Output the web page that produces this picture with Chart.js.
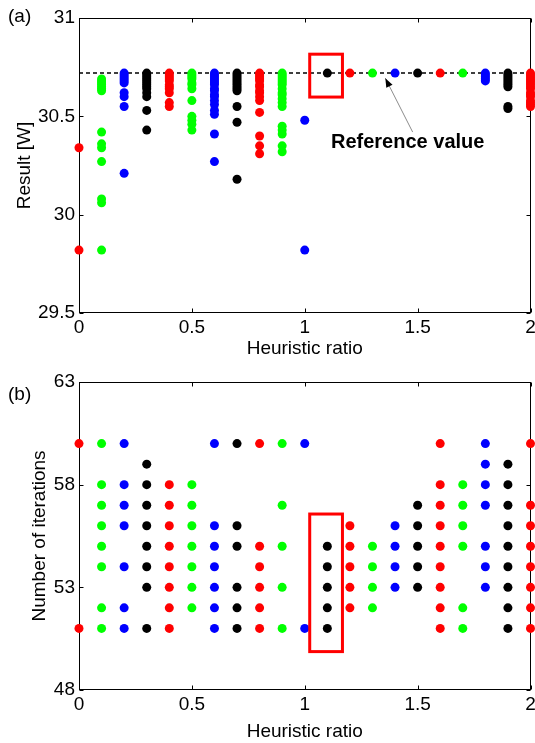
<!DOCTYPE html>
<html>
<head>
<meta charset="utf-8">
<title>Heuristic ratio sweep</title>
<script src="https://cdn.jsdelivr.net/npm/chart.js@4.4.0/dist/chart.umd.min.js"></script>
<style>
  html, body { margin: 0; padding: 0; background: #fff; }
  #wrap { position: relative; width: 535px; height: 743px; }
  canvas { position: absolute; left: 0; }
  #resultChart { top: 0; }
  #iterChart { top: 370px; }
</style>
</head>
<body>
<div id="wrap">
  <canvas id="resultChart" width="535" height="370"></canvas>
  <canvas id="iterChart" width="535" height="373"></canvas>
</div>
<script>
// heuristic ratios swept, one column of runs per ratio
const ratios = [0, 0.1, 0.2, 0.3, 0.4, 0.5, 0.6, 0.7, 0.8, 0.9, 1.0,
                1.1, 1.2, 1.3, 1.4, 1.5, 1.6, 1.7, 1.8, 1.9, 2.0];
// marker colour cycles red, green, blue, black along the ratios
const colorCycle = ['#ff0000', '#00ff00', '#0000ff', '#000000'];

const referenceValue = 30.72;

// result [W] of every run, per ratio
const resultRuns = [
  [30.34, 29.82],
  [30.69, 30.68, 30.67, 30.66, 30.65, 30.64, 30.63, 30.42, 30.36, 30.34, 30.27, 30.08, 30.06, 29.82],
  [30.72, 30.71, 30.70, 30.69, 30.68, 30.67, 30.62, 30.60, 30.55, 30.21],
  [30.72, 30.71, 30.70, 30.69, 30.68, 30.67, 30.66, 30.65, 30.64, 30.62, 30.60, 30.53, 30.43],
  [30.72, 30.71, 30.70, 30.69, 30.68, 30.66, 30.65, 30.64, 30.62, 30.57, 30.55],
  [30.72, 30.71, 30.70, 30.69, 30.67, 30.66, 30.64, 30.58, 30.50, 30.48, 30.46, 30.43],
  [30.72, 30.71, 30.70, 30.69, 30.68, 30.67, 30.66, 30.64, 30.63, 30.61, 30.60, 30.58, 30.56, 30.53, 30.51, 30.41, 30.27],
  [30.72, 30.71, 30.70, 30.69, 30.68, 30.67, 30.66, 30.65, 30.64, 30.63, 30.55, 30.47, 30.18],
  [30.72, 30.71, 30.70, 30.69, 30.68, 30.66, 30.65, 30.63, 30.62, 30.60, 30.58, 30.52, 30.40, 30.35, 30.31],
  [30.72, 30.71, 30.70, 30.69, 30.68, 30.67, 30.66, 30.64, 30.62, 30.61, 30.59, 30.57, 30.55, 30.45, 30.43, 30.41, 30.35, 30.32],
  [30.48, 29.82],
  [30.72],
  [30.72],
  [30.72],
  [30.72],
  [30.72],
  [30.72],
  [30.72],
  [30.72, 30.71, 30.70, 30.69, 30.68],
  [30.72, 30.71, 30.70, 30.69, 30.68, 30.67, 30.66, 30.65, 30.55, 30.54],
  [30.72, 30.71, 30.70, 30.69, 30.68, 30.67, 30.66, 30.65, 30.64, 30.62, 30.61, 30.60, 30.58, 30.57, 30.56, 30.55]
];

// number of iterations of every run, per ratio
const iterationRuns = [
  [60, 51],
  [60, 58, 57, 56, 55, 54, 52, 51],
  [60, 58, 57, 56, 54, 52, 51],
  [59, 58, 57, 56, 55, 54, 53, 51],
  [58, 57, 56, 55, 54, 53, 52, 51],
  [58, 57, 56, 55, 54, 53, 52],
  [60, 56, 55, 54, 53, 52, 51],
  [60, 56, 55, 53, 52, 51],
  [60, 55, 54, 53, 52, 51],
  [60, 57, 55, 53, 51],
  [60, 51],
  [55, 54, 53, 52, 51],
  [56, 55, 54, 53, 52],
  [55, 54, 53, 52],
  [56, 55, 54, 53],
  [57, 56, 55, 54, 53],
  [60, 58, 57, 56, 55, 54, 53, 52, 51],
  [58, 57, 56, 55, 52, 51],
  [60, 59, 58, 57, 55, 54, 53],
  [59, 58, 57, 56, 55, 54, 53, 52, 51],
  [60, 57, 56, 55, 54, 53, 52, 51]
];

Chart.defaults.font.family = '"Liberation Sans", Arial, sans-serif';
Chart.defaults.font.size = 19;
Chart.defaults.color = '#000';

const fmtTick = (v) => String(Math.round(v * 100) / 100);

function runDatasets(runs) {
  return ratios.map((r, i) => ({
    data: runs[i].map((v) => ({ x: r, y: v })),
    backgroundColor: colorCycle[i % 4],
    borderWidth: 0,
    pointRadius: 4.5,
    pointHoverRadius: 4.5,
    clip: false,
    order: 0
  }));
}

// box frame and inward ticks (MATLAB style axes), plus tag / highlight box / note
const panelDecor = {
  id: 'panelDecor',
  beforeDatasetsDraw(chart) {
    const { ctx, chartArea: a, scales: { x, y } } = chart;
    const L = Math.round(a.left) + 0.5, R = Math.round(a.right) - 0.5;
    const T = Math.round(a.top) + 0.5, B = Math.round(a.bottom) - 0.5;
    ctx.save();
    ctx.strokeStyle = '#000';
    ctx.lineWidth = 1;
    ctx.strokeRect(L, T, R - L, B - T);
    ctx.beginPath();
    x.ticks.forEach((t) => {
      const px = Math.round(x.getPixelForValue(t.value)) + 0.5;
      ctx.moveTo(px, B); ctx.lineTo(px, B - 4);
      ctx.moveTo(px, T); ctx.lineTo(px, T + 4);
    });
    y.ticks.forEach((t) => {
      const py = Math.round(y.getPixelForValue(t.value)) + 0.5;
      ctx.moveTo(L, py); ctx.lineTo(L + 4, py);
      ctx.moveTo(R, py); ctx.lineTo(R - 4, py);
    });
    ctx.stroke();
    ctx.restore();
  },
  afterDatasetsDraw(chart, args, opts) {
    const { ctx, scales: { x, y } } = chart;
    ctx.save();
    if (opts.box) {
      const b = opts.box;
      const x0 = x.getPixelForValue(b.x0), x1 = x.getPixelForValue(b.x1);
      const y0 = y.getPixelForValue(b.y0), y1 = y.getPixelForValue(b.y1);
      ctx.strokeStyle = '#ff0000';
      ctx.lineWidth = 3;
      ctx.strokeRect(x0, y1, x1 - x0, y0 - y1);
    }
    if (opts.note) {
      const n = opts.note;
      const tx = x.getPixelForValue(n.tail[0]), ty = y.getPixelForValue(n.tail[1]);
      const hx = x.getPixelForValue(n.tip[0]), hy = y.getPixelForValue(n.tip[1]);
      ctx.strokeStyle = '#8c8c8c';
      ctx.lineWidth = 1;
      ctx.beginPath();
      ctx.moveTo(tx, ty);
      ctx.lineTo(hx, hy);
      ctx.stroke();
      // arrow head
      const ang = Math.atan2(hy - ty, hx - tx);
      const len = 9, half = 3.5;
      ctx.fillStyle = '#000';
      ctx.beginPath();
      ctx.moveTo(hx, hy);
      ctx.lineTo(hx - len * Math.cos(ang) + half * Math.sin(ang), hy - len * Math.sin(ang) - half * Math.cos(ang));
      ctx.lineTo(hx - len * Math.cos(ang) - half * Math.sin(ang), hy - len * Math.sin(ang) + half * Math.cos(ang));
      ctx.closePath();
      ctx.fill();
      ctx.font = 'bold 20px "Liberation Sans", Arial, sans-serif';
      ctx.textAlign = 'center';
      ctx.textBaseline = 'middle';
      ctx.fillText(n.text, x.getPixelForValue(n.at[0]), y.getPixelForValue(n.at[1]));
    }
    ctx.restore();
  },
  afterDraw(chart, args, opts) {
    if (!opts.tag) return;
    const { ctx } = chart;
    ctx.save();
    ctx.font = '19px "Liberation Sans", Arial, sans-serif';
    ctx.fillStyle = '#000';
    ctx.textAlign = 'left';
    ctx.textBaseline = 'middle';
    ctx.fillText(opts.tag, 8, opts.tagY);
    ctx.restore();
  }
};

function panelOptions(p) {
  return {
    responsive: false,
    animation: false,
    layout: { padding: { left: 0, right: 0, top: p.top, bottom: 0 } },
    plugins: {
      legend: { display: false },
      tooltip: { enabled: false },
      panelDecor: p.decor
    },
    scales: {
      x: {
        type: 'linear',
        min: 0,
        max: 2,
        afterFit: (s) => { s.height = p.xHeight; s.paddingLeft = 0; s.paddingRight = 4; },
        ticks: { stepSize: 0.5, padding: 3, maxRotation: 0, autoSkip: false, callback: fmtTick },
        grid: { display: false, drawTicks: false },
        border: { display: false },
        title: { display: true, text: 'Heuristic ratio', padding: { top: 0, bottom: p.xTitlePad } }
      },
      y: {
        type: 'linear',
        min: p.yMin,
        max: p.yMax,
        afterFit: (s) => { s.width = 79; s.paddingTop = 0; s.paddingBottom = 0; },
        ticks: { stepSize: p.yStep, padding: 4, callback: fmtTick },
        grid: { display: false, drawTicks: false },
        border: { display: false },
        title: { display: true, text: p.yTitle, padding: { top: p.yTitlePad, bottom: 0 } }
      }
    }
  };
}

const resultSets = runDatasets(resultRuns);
resultSets.push({
  data: [{ x: 0, y: referenceValue }, { x: 2, y: referenceValue }],
  showLine: true,
  borderColor: '#000',
  borderWidth: 1.4,
  borderDash: [4, 3],
  pointRadius: 0,
  order: 1
});

new Chart(document.getElementById('resultChart'), {
  type: 'scatter',
  data: { datasets: resultSets },
  options: panelOptions({
    top: 18, xHeight: 57, xTitlePad: 10,
    yMin: 29.5, yMax: 31, yStep: 0.5,
    yTitle: 'Result [W]', yTitlePad: 13,
    decor: {
      tag: '(a)', tagY: 17,
      box: { x0: 1.022, x1: 1.167, y0: 30.598, y1: 30.816 },
      note: { text: 'Reference value', at: [1.456, 30.365], tail: [1.478, 30.42], tip: [1.357, 30.694] }
    }
  }),
  plugins: [panelDecor]
});

new Chart(document.getElementById('iterChart'), {
  type: 'scatter',
  data: { datasets: runDatasets(iterationRuns) },
  options: panelOptions({
    top: 12, xHeight: 53, xTitlePad: 0,
    yMin: 48, yMax: 63, yStep: 5,
    yTitle: 'Number of iterations', yTitlePad: 28,
    decor: {
      tag: '(b)', tagY: 25,
      box: { x0: 1.022, x1: 1.167, y0: 49.87, y1: 56.57 }
    }
  }),
  plugins: [panelDecor]
});
</script>
</body>
</html>
